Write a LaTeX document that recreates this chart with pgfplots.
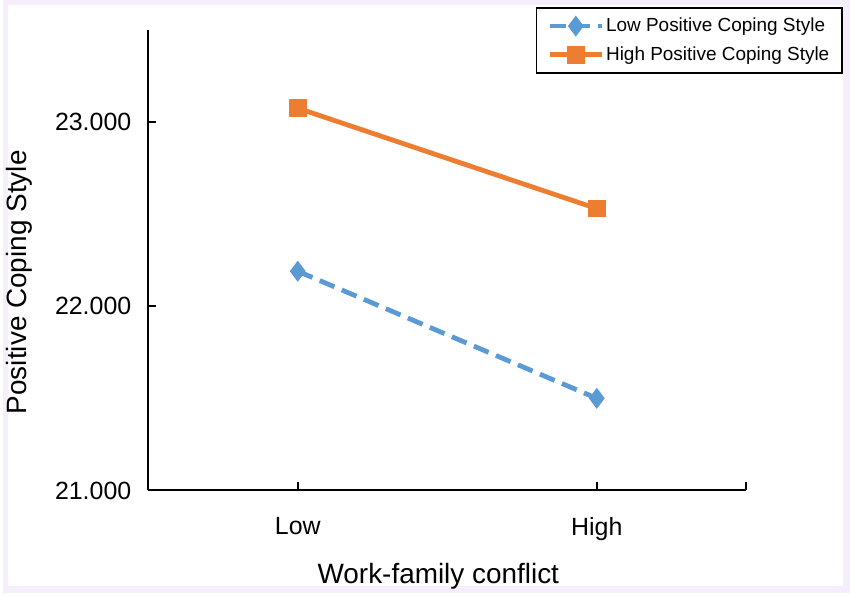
\documentclass[border=0pt]{standalone}
\usepackage{fontspec}
\setmainfont{Liberation Sans}
\usepackage{pgfplots}
\pgfplotsset{compat=1.18}
\definecolor{bgl}{HTML}{F4EFFB}
\definecolor{cblue}{HTML}{5B9BD5}
\definecolor{corange}{HTML}{ED7D31}
\begin{document}
\begin{tikzpicture}
\fill[bgl] (0,0) rectangle (425pt,297.5pt);
\fill[white] (2.5pt,3.5pt) rectangle (421.5pt,295pt);
\begin{axis}[
 at={(73pt,51.5pt)}, anchor=south west,
 scale only axis, width=300pt, height=231pt,
 xmin=-0.5, xmax=1.5, ymin=21, ymax=23.5,
 axis x line*=bottom, axis y line*=left,
 axis line style={line width=1pt, black},
 xtick={0,1,1.5}, xticklabels={Low,High,{}},
 ytick={21,22,23}, yticklabels={21.000,22.000,23.000},
 tick align=inside, major tick length=4pt,
 tick style={line width=1pt, black},
 ticklabel style={font=\fontsize{12.5}{14}\selectfont},
 xticklabel style={yshift=-10pt},
 yticklabel style={xshift=-5pt},
 xlabel={Work-family conflict}, ylabel={Positive Coping Style},
 label style={font=\fontsize{14}{16}\selectfont},
 xlabel style={at={(axis description cs:0.485,-0.186)}, anchor=center},
 ylabel style={at={(axis description cs:-0.215,0.452)}, anchor=center},
 legend style={at={(axis description cs:1.1617,1.0498)}, anchor=north east, draw=black, line width=0.8pt, font=\fontsize{9.5}{11}\selectfont, inner xsep=5.5pt, inner ysep=3pt, row sep=2pt, cells={anchor=west}, nodes={inner xsep=1pt, inner ysep=2pt}, fill=white},
 legend image code/.code={\draw[#1, mark repeat=2, mark phase=2] plot coordinates {(0pt,0pt) (13pt,0pt) (26pt,0pt)};},
]
\addplot[cblue, line width=2.4pt, dash pattern=on 8pt off 4pt, mark=diamond*, mark size=3.3pt, mark options={solid}] coordinates {(0,22.19) (1,21.50)};
\addlegendentry{Low Positive Coping Style}
\addplot[corange, line width=2.4pt, mark=square*, mark size=3.2pt] coordinates {(0,23.075) (1,22.53)};
\addlegendentry{High Positive Coping Style}
\end{axis}
\end{tikzpicture}
\end{document}
